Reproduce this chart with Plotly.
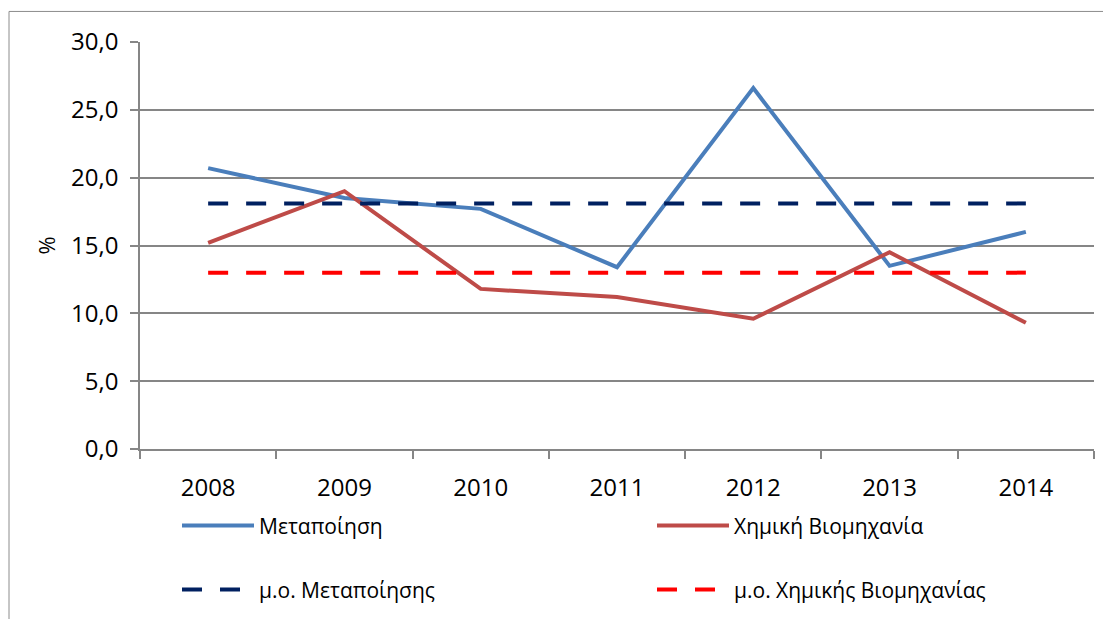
import plotly.graph_objects as go

years = ["2008", "2009", "2010", "2011", "2012", "2013", "2014"]
manufacturing = [20.7, 18.5, 17.7, 13.4, 26.6, 13.5, 16.0]
chemical = [15.2, 19.0, 11.8, 11.2, 9.6, 14.5, 9.3]
manufacturing_avg = [18.1] * 7
chemical_avg = [13.0] * 7

names = ["Μεταποίηση", "Χημική Βιομηχανία", "μ.ο. Μεταποίησης", "μ.ο. Χημικής Βιομηχανίας"]

FONT = "Open Sans"
FS = 24
fig = go.Figure()
fig.add_trace(go.Scatter(x=years, y=manufacturing, mode="lines", name=names[0],
                         line=dict(color="#4A7EBB", width=4), legend="legend"))
fig.add_trace(go.Scatter(x=years, y=chemical, mode="lines", name=names[1],
                         line=dict(color="#BE4B48", width=4), legend="legend2"))
fig.add_trace(go.Scatter(x=years, y=manufacturing_avg, mode="lines", name=names[2],
                         line=dict(color="#002060", width=4, dash="20px,18px"), legend="legend3"))
fig.add_trace(go.Scatter(x=years, y=chemical_avg, mode="lines", name=names[3],
                         line=dict(color="#FF0000", width=4, dash="20px,18px"), legend="legend4"))

legend_common = dict(orientation="h", xanchor="left", yanchor="middle", itemwidth=72,
                     font=dict(family=FONT, size=21, color="#000000"),
                     bgcolor="rgba(0,0,0,0)")

col1, col2 = (177 - 140) / 954, (652 - 140) / 954
row1, row2 = -(533 - 455) / 413, -(598 - 455) / 413

fig.update_layout(
    width=1103, height=619,
    margin=dict(l=140, r=9, t=42, b=164),
    paper_bgcolor="white", plot_bgcolor="white",
    separators=",.",
    font=dict(family=FONT, size=FS, color="#000000"),
    showlegend=True,
    legend=dict(x=col1, y=row1, **legend_common),
    legend2=dict(x=col2, y=row1, **legend_common),
    legend3=dict(x=col1, y=row2, **legend_common),
    legend4=dict(x=col2, y=row2, **legend_common),
    xaxis=dict(type="category", range=[-0.5, 6.5], showgrid=False, showline=True,
               linecolor="#868686", linewidth=1.5,
               ticks="outside", tickson="boundaries", ticklen=8, tickcolor="#868686", tickwidth=1.5,
               ticklabelstandoff=16, tickfont=dict(family=FONT, size=FS)),
    yaxis=dict(range=[0, 30], dtick=5, tickformat=".1f", showgrid=True, gridcolor="#868686", gridwidth=1.5,
               showline=True, linecolor="#868686", linewidth=1.5, ticks="outside", ticklen=8,
               tickcolor="#868686", tickwidth=1.5, ticklabelstandoff=7, zeroline=False,
               tickfont=dict(family=FONT, size=FS),
               title=dict(text="%", standoff=9, font=dict(family=FONT, size=22))),
    shapes=[dict(type="path", xref="paper", yref="paper",
                 path="M {x0},{y0} L {x0},{y1} L {x1},{y1}".format(
                     x0=(9 - 140) / 954, x1=(1120 - 140) / 954,
                     y0=(455 - 640) / 413, y1=(455 - 11) / 413),
                 line=dict(color="#8C8C8C", width=1), layer="below")],
)

fig.write_html("out.html", config={"displayModeBar": False},
               post_script="document.body.style.margin='0';document.body.style.overflow='hidden';")
